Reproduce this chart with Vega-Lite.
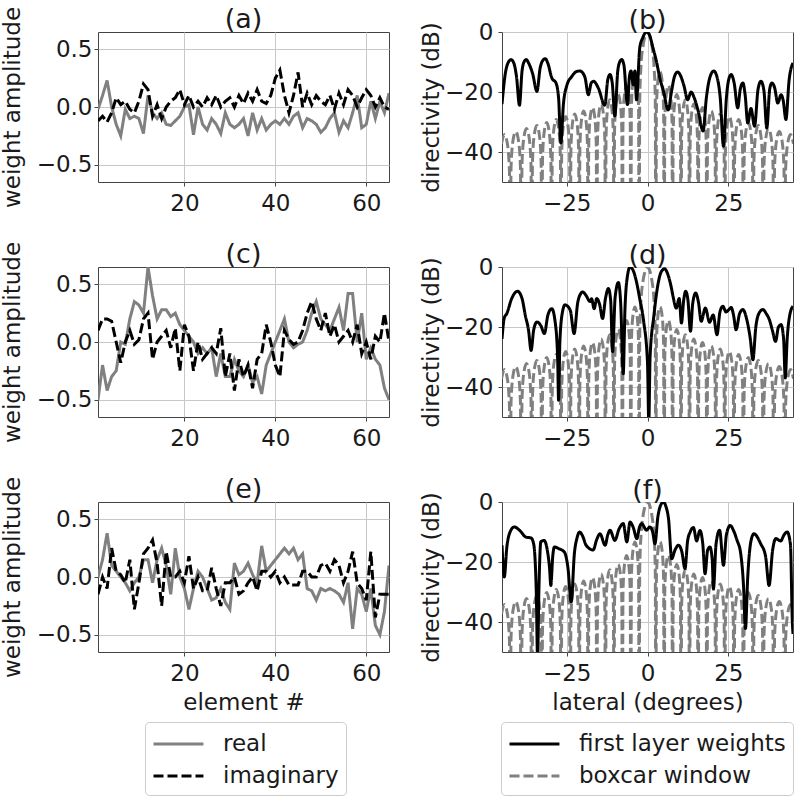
{
"$schema": "https://vega.github.io/schema/vega-lite/v6.json",
"background": "white",
"padding": {"left": 0, "top": 5, "right": 0, "bottom": 0},
"config": {
  "font": "DejaVu Sans",
  "view": {"stroke": "#444444", "strokeWidth": 1},
  "axis": {"labelFont": "DejaVu Sans", "labelFontSize": 23, "labelColor": "#1a1a1a", "titleFont": "DejaVu Sans", "titleFontSize": 23, "titleFontWeight": "normal", "titleColor": "#1a1a1a", "gridColor": "#c8c8c8", "gridWidth": 1, "gridOpacity": 1, "domain": false, "tickColor": "#444444", "tickSize": 4, "labelFlush": false, "labelOverlap": false},
  "axisX": {"labelPadding": 6, "titlePadding": 6},
  "axisY": {"labelPadding": 2, "titlePadding": 12},
  "title": {"font": "DejaVu Sans", "fontSize": 27, "fontWeight": "normal", "color": "#1a1a1a", "offset": 3, "frame": "group"},
  "legend": {"title": null, "symbolType": "M-1,0H2.7", "symbolSize": 729, "symbolStrokeWidth": 3, "labelFontSize": 23, "labelFont": "DejaVu Sans", "labelColor": "#1a1a1a", "labelOffset": 41, "labelLimit": 0, "padding": 7, "rowPadding": 5, "strokeColor": "#cccccc", "cornerRadius": 4, "fillColor": "white"},
  "line": {"strokeWidth": 3}
},
"datasets": {
"wa": [
{"e":1,"r":-0.02,"i":-0.12},{"e":2,"r":0.1,"i":-0.08},{"e":3,"r":0.23,"i":-0.13},{"e":4,"r":0.0,"i":-0.05},{"e":5,"r":-0.15,"i":0.08},{"e":6,"r":-0.25,"i":0.02},{"e":7,"r":-0.02,"i":0.05},{"e":8,"r":-0.1,"i":-0.02},{"e":9,"r":-0.08,"i":-0.05},{"e":10,"r":-0.1,"i":0.05},
{"e":11,"r":-0.23,"i":0.2},{"e":12,"r":0.1,"i":0.15},{"e":13,"r":-0.05,"i":-0.08},{"e":14,"r":-0.1,"i":0.02},{"e":15,"r":-0.05,"i":-0.1},{"e":16,"r":-0.15,"i":0.0},{"e":17,"r":-0.16,"i":0.05},{"e":18,"r":-0.12,"i":0.08},{"e":19,"r":-0.08,"i":0.15},{"e":20,"r":0.0,"i":0.02},
{"e":21,"r":0.02,"i":0.1},{"e":22,"r":-0.24,"i":0.0},{"e":23,"r":0.0,"i":0.05},{"e":24,"r":-0.15,"i":0.0},{"e":25,"r":-0.2,"i":0.08},{"e":26,"r":-0.1,"i":0.02},{"e":27,"r":-0.15,"i":0.1},{"e":28,"r":-0.23,"i":0.0},{"e":29,"r":-0.05,"i":0.05},{"e":30,"r":-0.15,"i":0.08},
{"e":31,"r":-0.18,"i":0.0},{"e":32,"r":-0.15,"i":0.1},{"e":33,"r":-0.1,"i":0.03},{"e":34,"r":-0.25,"i":0.12},{"e":35,"r":-0.05,"i":0.05},{"e":36,"r":-0.2,"i":0.15},{"e":37,"r":-0.1,"i":0.05},{"e":38,"r":-0.2,"i":0.03},{"e":39,"r":-0.15,"i":0.1},{"e":40,"r":-0.12,"i":0.25},
{"e":41,"r":-0.15,"i":0.32},{"e":42,"r":-0.1,"i":0.1},{"e":43,"r":-0.15,"i":-0.05},{"e":44,"r":-0.08,"i":0.1},{"e":45,"r":-0.05,"i":0.3},{"e":46,"r":-0.18,"i":0.0},{"e":47,"r":-0.1,"i":0.12},{"e":48,"r":-0.12,"i":0.02},{"e":49,"r":-0.15,"i":0.1},{"e":50,"r":-0.22,"i":0.05},
{"e":51,"r":-0.18,"i":0.02},{"e":52,"r":-0.1,"i":0.1},{"e":53,"r":-0.05,"i":-0.02},{"e":54,"r":-0.22,"i":0.12},{"e":55,"r":-0.12,"i":0.02},{"e":56,"r":-0.18,"i":0.15},{"e":57,"r":-0.05,"i":0.1},{"e":58,"r":0.1,"i":0.0},{"e":59,"r":-0.18,"i":0.08},{"e":60,"r":-0.15,"i":0.15},
{"e":61,"r":0.05,"i":0.1},{"e":62,"r":-0.1,"i":0.0},{"e":63,"r":0.05,"i":0.08},{"e":64,"r":-0.05,"i":0.0},{"e":65,"r":0.12,"i":-0.02}
],
"wc": [
{"e":1,"r":-0.5,"i":0.1},{"e":2,"r":-0.2,"i":0.2},{"e":3,"r":-0.42,"i":0.2},{"e":4,"r":-0.3,"i":0.18},{"e":5,"r":-0.25,"i":0.0},{"e":6,"r":0.0,"i":-0.18},{"e":7,"r":-0.02,"i":0.0},{"e":8,"r":0.2,"i":0.1},{"e":9,"r":0.35,"i":-0.02},{"e":10,"r":0.32,"i":0.02},
{"e":11,"r":0.25,"i":0.2},{"e":12,"r":0.65,"i":0.25},{"e":13,"r":0.4,"i":-0.15},{"e":14,"r":0.2,"i":0.0},{"e":15,"r":0.28,"i":0.05},{"e":16,"r":0.28,"i":0.1},{"e":17,"r":0.22,"i":-0.05},{"e":18,"r":0.25,"i":0.12},{"e":19,"r":0.15,"i":-0.25},{"e":20,"r":0.1,"i":0.15},
{"e":21,"r":0.05,"i":0.05},{"e":22,"r":0.0,"i":-0.25},{"e":23,"r":-0.1,"i":0.0},{"e":24,"r":-0.05,"i":-0.15},{"e":25,"r":-0.1,"i":-0.1},{"e":26,"r":-0.05,"i":-0.05},{"e":27,"r":-0.3,"i":-0.1},{"e":28,"r":-0.1,"i":0.12},{"e":29,"r":-0.3,"i":-0.3},{"e":30,"r":-0.3,"i":-0.1},
{"e":31,"r":-0.15,"i":-0.42},{"e":32,"r":-0.25,"i":-0.15},{"e":33,"r":-0.3,"i":-0.3},{"e":34,"r":-0.2,"i":-0.2},{"e":35,"r":-0.35,"i":-0.4},{"e":36,"r":-0.3,"i":-0.15},{"e":37,"r":-0.45,"i":-0.1},{"e":38,"r":-0.2,"i":0.15},{"e":39,"r":-0.1,"i":0.0},{"e":40,"r":0.0,"i":-0.2},
{"e":41,"r":0.1,"i":-0.3},{"e":42,"r":0.2,"i":0.1},{"e":43,"r":0.0,"i":0.02},{"e":44,"r":-0.05,"i":-0.02},{"e":45,"r":-0.02,"i":0.0},{"e":46,"r":0.0,"i":0.1},{"e":47,"r":0.1,"i":0.25},{"e":48,"r":0.25,"i":0.35},{"e":49,"r":0.35,"i":0.2},{"e":50,"r":0.2,"i":0.1},
{"e":51,"r":0.15,"i":0.25},{"e":52,"r":0.1,"i":0.05},{"e":53,"r":0.2,"i":0.15},{"e":54,"r":0.3,"i":0.0},{"e":55,"r":0.1,"i":0.05},{"e":56,"r":0.42,"i":0.1},{"e":57,"r":0.42,"i":0.0},{"e":58,"r":0.0,"i":0.15},{"e":59,"r":0.25,"i":-0.1},{"e":60,"r":-0.15,"i":0.0},
{"e":61,"r":-0.05,"i":-0.15},{"e":62,"r":-0.15,"i":0.05},{"e":63,"r":-0.2,"i":0.0},{"e":64,"r":-0.4,"i":0.25},{"e":65,"r":-0.5,"i":0.0}
],
"we": [
{"e":1,"r":0.0,"i":-0.15},{"e":2,"r":0.15,"i":0.0},{"e":3,"r":0.38,"i":-0.1},{"e":4,"r":0.1,"i":0.25},{"e":5,"r":0.05,"i":0.05},{"e":6,"r":0.0,"i":0.02},{"e":7,"r":-0.05,"i":-0.05},{"e":8,"r":-0.12,"i":0.15},{"e":9,"r":-0.05,"i":-0.28},{"e":10,"r":0.0,"i":-0.05},
{"e":11,"r":0.15,"i":0.2},{"e":12,"r":0.15,"i":0.25},{"e":13,"r":-0.05,"i":0.32},{"e":14,"r":0.15,"i":0.12},{"e":15,"r":0.25,"i":-0.25},{"e":16,"r":0.1,"i":0.22},{"e":17,"r":-0.15,"i":0.0},{"e":18,"r":0.25,"i":0.0},{"e":19,"r":0.0,"i":0.05},{"e":20,"r":-0.1,"i":-0.05},
{"e":21,"r":-0.28,"i":0.18},{"e":22,"r":-0.1,"i":-0.1},{"e":23,"r":0.05,"i":0.0},{"e":24,"r":0.0,"i":-0.12},{"e":25,"r":-0.1,"i":-0.12},{"e":26,"r":-0.2,"i":0.08},{"e":27,"r":-0.18,"i":-0.1},{"e":28,"r":-0.1,"i":-0.25},{"e":29,"r":-0.22,"i":-0.05},{"e":30,"r":-0.28,"i":-0.05},
{"e":31,"r":0.12,"i":0.0},{"e":32,"r":0.02,"i":-0.15},{"e":33,"r":0.05,"i":-0.12},{"e":34,"r":0.12,"i":-0.05},{"e":35,"r":0.02,"i":0.0},{"e":36,"r":-0.05,"i":-0.12},{"e":37,"r":0.27,"i":0.05},{"e":38,"r":0.05,"i":0.05},{"e":39,"r":0.1,"i":0.0},{"e":40,"r":0.15,"i":0.05},
{"e":41,"r":0.2,"i":-0.05},{"e":42,"r":0.25,"i":0.0},{"e":43,"r":0.2,"i":-0.07},{"e":44,"r":0.25,"i":-0.07},{"e":45,"r":0.15,"i":-0.07},{"e":46,"r":0.2,"i":0.05},{"e":47,"r":-0.1,"i":0.05},{"e":48,"r":-0.12,"i":0.0},{"e":49,"r":-0.2,"i":0.0},{"e":50,"r":-0.1,"i":0.1},
{"e":51,"r":-0.12,"i":0.12},{"e":52,"r":-0.1,"i":0.05},{"e":53,"r":-0.12,"i":0.15},{"e":54,"r":-0.15,"i":0.1},{"e":55,"r":-0.22,"i":-0.05},{"e":56,"r":-0.05,"i":0.05},{"e":57,"r":-0.45,"i":0.22},{"e":58,"r":-0.1,"i":-0.05},{"e":59,"r":-0.15,"i":-0.1},{"e":60,"r":-0.3,"i":-0.2},
{"e":61,"r":-0.1,"i":0.22},{"e":62,"r":-0.42,"i":-0.35},{"e":63,"r":-0.5,"i":-0.15},{"e":64,"r":-0.3,"i":-0.15},{"e":65,"r":0.1,"i":-0.15}
],
"box": [
{"a":-45.15,"d":-37.2},{"a":-44.25,"d":-34.2},{"a":-43.35,"d":-37.2},{"a":-42.7,"d":-46.2},{"a":-42.45,"d":-90},
{"a":-42.21,"d":-45.2},{"a":-41.6,"d":-36.2},{"a":-40.75,"d":-33.2},{"a":-39.9,"d":-36.2},{"a":-39.29,"d":-45.2},{"a":-39.05,"d":-90},
{"a":-38.82,"d":-44.2},{"a":-38.24,"d":-35.2},{"a":-37.43,"d":-32.2},{"a":-36.61,"d":-35.2},{"a":-36.03,"d":-44.2},{"a":-35.8,"d":-90},
{"a":-35.58,"d":-43.2},{"a":-35.02,"d":-34.2},{"a":-34.24,"d":-31.2},{"a":-33.46,"d":-34.2},{"a":-32.9,"d":-43.2},{"a":-32.68,"d":-90},
{"a":-32.47,"d":-42.2},{"a":-31.93,"d":-33.2},{"a":-31.18,"d":-30.2},{"a":-30.42,"d":-33.2},{"a":-29.88,"d":-42.2},{"a":-29.67,"d":-90},
{"a":-29.46,"d":-41.2},{"a":-28.94,"d":-32.2},{"a":-28.21,"d":-29.2},{"a":-27.47,"d":-32.2},{"a":-26.95,"d":-41.2},{"a":-26.74,"d":-90},
{"a":-26.54,"d":-40.2},{"a":-26.03,"d":-31.2},{"a":-25.32,"d":-28.2},{"a":-24.6,"d":-31.2},{"a":-24.09,"d":-40.2},{"a":-23.89,"d":-90},
{"a":-23.69,"d":-39.3},{"a":-23.19,"d":-30.3},{"a":-22.5,"d":-27.3},{"a":-21.8,"d":-30.3},{"a":-21.3,"d":-39.3},{"a":-21.1,"d":-90},
{"a":-20.91,"d":-38.3},{"a":-20.42,"d":-29.3},{"a":-19.73,"d":-26.3},{"a":-19.05,"d":-29.3},{"a":-18.55,"d":-38.3},{"a":-18.36,"d":-90},
{"a":-18.17,"d":-37.2},{"a":-17.69,"d":-28.2},{"a":-17.01,"d":-25.2},{"a":-16.34,"d":-28.2},{"a":-15.85,"d":-37.2},{"a":-15.66,"d":-90},
{"a":-15.47,"d":-36},{"a":-15.0,"d":-27},{"a":-14.33,"d":-24},{"a":-13.67,"d":-27},{"a":-13.19,"d":-36},{"a":-13.0,"d":-90},
{"a":-12.82,"d":-34.6},{"a":-12.34,"d":-25.6},{"a":-11.69,"d":-22.6},{"a":-11.03,"d":-25.6},{"a":-10.55,"d":-34.6},{"a":-10.37,"d":-90},
{"a":-10.19,"d":-32.8},{"a":-9.72,"d":-23.8},{"a":-9.07,"d":-20.8},{"a":-8.41,"d":-23.8},{"a":-7.94,"d":-32.8},{"a":-7.76,"d":-90},
{"a":-7.58,"d":-29.8},{"a":-7.11,"d":-20.8},{"a":-6.46,"d":-17.8},{"a":-5.81,"d":-20.8},{"a":-5.34,"d":-29.8},{"a":-5.16,"d":-90},
{"a":-4.98,"d":-25.3},{"a":-4.52,"d":-16.3},{"a":-3.87,"d":-13.3},{"a":-3.23,"d":-16.3},{"a":-2.76,"d":-25.3},{"a":-2.58,"d":-90},
{"a":-2.4,"d":-22},{"a":-2.0,"d":-11},{"a":-1.4,"d":-4.8},{"a":-0.7,"d":-1.2},{"a":0,"d":0},
{"a":0.7,"d":-1.2},{"a":1.4,"d":-4.8},{"a":2.0,"d":-11},{"a":2.4,"d":-22},{"a":2.58,"d":-90},
{"a":2.76,"d":-25.3},{"a":3.23,"d":-16.3},{"a":3.87,"d":-13.3},{"a":4.52,"d":-16.3},{"a":4.98,"d":-25.3},{"a":5.16,"d":-90},
{"a":5.34,"d":-29.8},{"a":5.81,"d":-20.8},{"a":6.46,"d":-17.8},{"a":7.11,"d":-20.8},{"a":7.58,"d":-29.8},{"a":7.76,"d":-90},
{"a":7.94,"d":-32.8},{"a":8.41,"d":-23.8},{"a":9.07,"d":-20.8},{"a":9.72,"d":-23.8},{"a":10.19,"d":-32.8},{"a":10.37,"d":-90},
{"a":10.55,"d":-34.6},{"a":11.03,"d":-25.6},{"a":11.69,"d":-22.6},{"a":12.34,"d":-25.6},{"a":12.82,"d":-34.6},{"a":13.0,"d":-90},
{"a":13.19,"d":-36},{"a":13.67,"d":-27},{"a":14.33,"d":-24},{"a":15.0,"d":-27},{"a":15.47,"d":-36},{"a":15.66,"d":-90},
{"a":15.85,"d":-37.2},{"a":16.34,"d":-28.2},{"a":17.01,"d":-25.2},{"a":17.69,"d":-28.2},{"a":18.17,"d":-37.2},{"a":18.36,"d":-90},
{"a":18.55,"d":-38.3},{"a":19.05,"d":-29.3},{"a":19.73,"d":-26.3},{"a":20.42,"d":-29.3},{"a":20.91,"d":-38.3},{"a":21.1,"d":-90},
{"a":21.3,"d":-39.3},{"a":21.8,"d":-30.3},{"a":22.5,"d":-27.3},{"a":23.19,"d":-30.3},{"a":23.69,"d":-39.3},{"a":23.89,"d":-90},
{"a":24.09,"d":-40.2},{"a":24.6,"d":-31.2},{"a":25.32,"d":-28.2},{"a":26.03,"d":-31.2},{"a":26.54,"d":-40.2},{"a":26.74,"d":-90},
{"a":26.95,"d":-41.2},{"a":27.47,"d":-32.2},{"a":28.21,"d":-29.2},{"a":28.94,"d":-32.2},{"a":29.46,"d":-41.2},{"a":29.67,"d":-90},
{"a":29.88,"d":-42.2},{"a":30.42,"d":-33.2},{"a":31.18,"d":-30.2},{"a":31.93,"d":-33.2},{"a":32.47,"d":-42.2},{"a":32.68,"d":-90},
{"a":32.9,"d":-43.2},{"a":33.46,"d":-34.2},{"a":34.24,"d":-31.2},{"a":35.02,"d":-34.2},{"a":35.58,"d":-43.2},{"a":35.8,"d":-90},
{"a":36.03,"d":-44.2},{"a":36.61,"d":-35.2},{"a":37.43,"d":-32.2},{"a":38.24,"d":-35.2},{"a":38.82,"d":-44.2},{"a":39.05,"d":-90},
{"a":39.29,"d":-45.2},{"a":39.9,"d":-36.2},{"a":40.75,"d":-33.2},{"a":41.6,"d":-36.2},{"a":42.21,"d":-45.2},{"a":42.45,"d":-90},
{"a":42.7,"d":-46.2},{"a":43.35,"d":-37.2},{"a":44.25,"d":-34.2},{"a":45.15,"d":-37.2}
],
"db": [
{"a":-45,"d":-24},{"a":-44,"d":-14},{"a":-43,"d":-10},{"a":-42.2,"d":-9.2},{"a":-41.3,"d":-10.5},{"a":-40.5,"d":-15},{"a":-39.6,"d":-24.4},{"a":-38.8,"d":-13},{"a":-38.2,"d":-10},{"a":-37.5,"d":-9.2},
{"a":-36.7,"d":-10.5},{"a":-35.5,"d":-14},{"a":-34.2,"d":-19.8},{"a":-33.2,"d":-12},{"a":-32.4,"d":-9.5},{"a":-31.6,"d":-8.9},{"a":-30.8,"d":-10.5},{"a":-29.6,"d":-15.3},{"a":-28.3,"d":-17},{"a":-27.5,"d":-22},
{"a":-26.8,"d":-37},{"a":-26,"d":-24},{"a":-25,"d":-18},{"a":-23.4,"d":-14.8},{"a":-22,"d":-13.2},{"a":-20.9,"d":-13},{"a":-19.8,"d":-14},{"a":-19.3,"d":-15.3},{"a":-18.3,"d":-20.9},{"a":-17.4,"d":-17},
{"a":-16.7,"d":-16.4},{"a":-15.2,"d":-18.7},{"a":-13.2,"d":-24.4},{"a":-12.3,"d":-16},{"a":-11.6,"d":-14.2},{"a":-10.9,"d":-17},{"a":-10.1,"d":-28},{"a":-9.2,"d":-13},{"a":-8.6,"d":-10},{"a":-8.0,"d":-9.2},
{"a":-7.3,"d":-11},{"a":-6.2,"d":-24.2},{"a":-5.6,"d":-15},{"a":-5.1,"d":-13},{"a":-4.4,"d":-17.6},{"a":-3.9,"d":-13},{"a":-3.4,"d":-22.6},{"a":-2.4,"d":-5.3},{"a":-1.5,"d":-2},{"a":-0.3,"d":0},
{"a":0.6,"d":-1},{"a":1.7,"d":-5.3},{"a":2.8,"d":-10},{"a":3.8,"d":-15.3},{"a":5,"d":-20},{"a":6.4,"d":-26},{"a":7.4,"d":-20},{"a":8.3,"d":-15},{"a":9.3,"d":-13.3},{"a":10.2,"d":-14.5},
{"a":11.3,"d":-18},{"a":12.4,"d":-22.6},{"a":13.5,"d":-20},{"a":14.4,"d":-21.8},{"a":15.6,"d":-26},{"a":17.2,"d":-33},{"a":18.2,"d":-22},{"a":19.2,"d":-15.5},{"a":20.5,"d":-13},{"a":21.5,"d":-15},
{"a":22.5,"d":-22},{"a":23.5,"d":-38.1},{"a":24.4,"d":-22},{"a":25.2,"d":-15.5},{"a":25.9,"d":-14.2},{"a":26.8,"d":-17},{"a":27.9,"d":-25.3},{"a":28.7,"d":-19},{"a":29.5,"d":-17},{"a":30.2,"d":-21},
{"a":31,"d":-30.3},{"a":32,"d":-25.5},{"a":33.1,"d":-31.4},{"a":34.2,"d":-19},{"a":35.1,"d":-16.4},{"a":36,"d":-19.5},{"a":36.9,"d":-32},{"a":37.8,"d":-19},{"a":38.5,"d":-17},{"a":39.3,"d":-18.5},
{"a":40.3,"d":-23.7},{"a":41.3,"d":-20.9},{"a":42,"d":-23},{"a":42.8,"d":-29.2},{"a":43.8,"d":-16},{"a":45,"d":-10.3}
],
"dd": [
{"a":-45,"d":-24},{"a":-44.3,"d":-17},{"a":-43.5,"d":-15.5},{"a":-42,"d":-10.5},{"a":-40.2,"d":-8.1},{"a":-38.8,"d":-10.5},{"a":-37.8,"d":-16.1},{"a":-36.8,"d":-21},{"a":-36,"d":-27.8},{"a":-35.2,"d":-21},
{"a":-34.2,"d":-18.3},{"a":-33,"d":-19.5},{"a":-31.9,"d":-22.2},{"a":-30.8,"d":-16},{"a":-29.6,"d":-13.9},{"a":-28.6,"d":-18},{"a":-27.8,"d":-30},{"a":-27.5,"d":-44.4},{"a":-27.1,"d":-25},{"a":-26.3,"d":-15},
{"a":-25.5,"d":-12.6},{"a":-23.9,"d":-14.4},{"a":-22.7,"d":-22.2},{"a":-21.6,"d":-12},{"a":-20.6,"d":-8.8},{"a":-20,"d":-8.3},{"a":-19,"d":-9.5},{"a":-17.8,"d":-11.5},{"a":-17.3,"d":-10.6},{"a":-16.5,"d":-13.9},
{"a":-15.7,"d":-10.5},{"a":-14.8,"d":-12.5},{"a":-13.9,"d":-17.2},{"a":-13,"d":-10.5},{"a":-12.1,"d":-7.2},{"a":-11.4,"d":-11},{"a":-10.8,"d":-28.3},{"a":-10,"d":-10},{"a":-9,"d":-5.2},{"a":-8.3,"d":-12},
{"a":-7.5,"d":-35.6},{"a":-7,"d":-15},{"a":-6.2,"d":-3},{"a":-5.4,"d":0},{"a":-4.5,"d":-1},{"a":-3.4,"d":-5},{"a":-2.4,"d":-10.6},{"a":-1.2,"d":-18},{"a":0,"d":-32},{"a":0.4,"d":-52},
{"a":0.8,"d":-30},{"a":2,"d":-16},{"a":3.2,"d":-6},{"a":4.3,"d":-1.5},{"a":5.3,"d":-0.6},{"a":6.3,"d":-2.5},{"a":7.3,"d":-6.5},{"a":7.9,"d":-9.8},{"a":8.9,"d":-13.7},{"a":9.8,"d":-10.5},
{"a":10.5,"d":-18.7},{"a":11.2,"d":-11},{"a":11.8,"d":-8.1},{"a":12.5,"d":-11},{"a":13.3,"d":-21.4},{"a":14,"d":-12},{"a":14.9,"d":-8.7},{"a":15.8,"d":-12},{"a":16.6,"d":-18.1},{"a":17.9,"d":-13.7},
{"a":19.2,"d":-18.4},{"a":20.3,"d":-16},{"a":21.5,"d":-22.6},{"a":22.4,"d":-15},{"a":23.3,"d":-13.1},{"a":24.3,"d":-15},{"a":24.9,"d":-14.5},{"a":25.9,"d":-13.5},{"a":26.6,"d":-16},{"a":27.4,"d":-20.9},
{"a":28.5,"d":-15.5},{"a":29.5,"d":-14.2},{"a":30.7,"d":-17.5},{"a":31.8,"d":-24},{"a":32.6,"d":-30.9},{"a":33.5,"d":-20},{"a":34.6,"d":-15.2},{"a":35.7,"d":-14.2},{"a":36.7,"d":-15.5},{"a":37.7,"d":-17.6},
{"a":38.6,"d":-21},{"a":39.6,"d":-24.8},{"a":40.5,"d":-20},{"a":41.3,"d":-19.2},{"a":42.1,"d":-24},{"a":42.6,"d":-37},{"a":43.2,"d":-24},{"a":44.1,"d":-15.5},{"a":45,"d":-13.1}
],
"df": [
{"a":-45,"d":-14.4},{"a":-44.3,"d":-25},{"a":-43.5,"d":-15},{"a":-42.5,"d":-10},{"a":-41.2,"d":-8.3},{"a":-39.5,"d":-9.5},{"a":-37.6,"d":-11.7},{"a":-36,"d":-12},{"a":-35.2,"d":-14},{"a":-34.4,"d":-30},
{"a":-34,"d":-52},{"a":-33.6,"d":-30},{"a":-33,"d":-13.3},{"a":-32,"d":-12.8},{"a":-31,"d":-16},{"a":-30.3,"d":-22},{"a":-29.9,"d":-27.8},{"a":-29.3,"d":-18},{"a":-28.8,"d":-15},{"a":-27.5,"d":-15.5},
{"a":-25.7,"d":-16.7},{"a":-24.6,"d":-22},{"a":-23.6,"d":-33.3},{"a":-22.6,"d":-17},{"a":-21.8,"d":-12},{"a":-21,"d":-10},{"a":-20,"d":-11.5},{"a":-19,"d":-14.4},{"a":-16.8,"d":-16},{"a":-15.7,"d":-12.5},
{"a":-14.7,"d":-10.6},{"a":-13.1,"d":-14.4},{"a":-12.3,"d":-11},{"a":-11.6,"d":-9.4},{"a":-10.1,"d":-12.8},{"a":-8.8,"d":-9},{"a":-7.5,"d":-7.2},{"a":-6.4,"d":-13.3},{"a":-5.4,"d":-6.7},{"a":-4.4,"d":-8.5},
{"a":-3.3,"d":-12.2},{"a":-2.5,"d":-8.5},{"a":-1.8,"d":-7.2},{"a":-0.3,"d":-9.4},{"a":0.7,"d":-8.3},{"a":1.6,"d":-10},{"a":2.3,"d":-13.9},{"a":3.2,"d":-5},{"a":4.1,"d":-1},{"a":4.9,"d":0},
{"a":5.7,"d":-1.5},{"a":6.5,"d":-5.6},{"a":7.5,"d":-18.9},{"a":8.5,"d":-16},{"a":9.6,"d":-14.4},{"a":10.6,"d":-16.5},{"a":11.6,"d":-22.2},{"a":12.4,"d":-13},{"a":13.2,"d":-10},{"a":14.2,"d":-8.5},
{"a":15.2,"d":-13},{"a":16.2,"d":-9.5},{"a":17.1,"d":-14},{"a":17.8,"d":-23.9},{"a":18.6,"d":-16},{"a":19.3,"d":-15},{"a":20,"d":-19},{"a":20.4,"d":-28.9},{"a":21.2,"d":-14},{"a":22.3,"d":-9.4},
{"a":23.5,"d":-21.1},{"a":24.4,"d":-11},{"a":25.6,"d":-7.8},{"a":26.6,"d":-9.5},{"a":27.7,"d":-12.8},{"a":28.8,"d":-17},{"a":29.7,"d":-28},{"a":30.3,"d":-42.2},{"a":31,"d":-25},{"a":32,"d":-13},
{"a":32.9,"d":-10.6},{"a":35,"d":-13.9},{"a":36.5,"d":-18},{"a":37.6,"d":-27.8},{"a":38.7,"d":-16},{"a":39.7,"d":-12.2},{"a":41.2,"d":-13},{"a":42.2,"d":-11},{"a":43.2,"d":-10},{"a":44.2,"d":-14},
{"a":44.8,"d":-40},{"a":45,"d":-44}
]
},
"columns": 2,
"bounds": "flush",
"spacing": {"row": 85, "column": 113},
"resolve": {"scale": {"color": "independent", "strokeDash": "independent"}, "legend": {"color": "independent", "strokeDash": "independent"}},
"concat": [
{
 "width": 291, "height": 150, "title": {"text": "(a)", "dy": 31}, "data": {"name": "wa"},
 "layer": [
  {"mark": {"type": "line", "clip": true}, "encoding": {
    "x": {"field": "e", "type": "quantitative", "scale": {"domain": [1, 65], "nice": false, "zero": false}, "axis": {"values": [20, 40, 60], "title": null}},
    "y": {"field": "r", "type": "quantitative", "scale": {"domain": [-0.65, 0.65], "nice": false, "zero": false}, "axis": {"values": [-0.5, 0, 0.5], "format": ".1f", "title": "weight amplitude"}},
    "color": {"datum": "real", "scale": {"domain": ["real", "imaginary"], "range": ["#808080", "#000000"]}, "legend": null},
    "strokeDash": {"datum": "real", "scale": {"domain": ["real", "imaginary"], "range": [[1, 0], [10, 4]]}, "legend": null}}},
  {"mark": {"type": "line", "clip": true}, "encoding": {
    "x": {"field": "e", "type": "quantitative"},
    "y": {"field": "i", "type": "quantitative", "axis": {"values": [-0.5, 0, 0.5], "format": ".1f", "title": "weight amplitude"}},
    "color": {"datum": "imaginary", "legend": null},
    "strokeDash": {"datum": "imaginary", "legend": null}}}
 ]
},
{
 "width": 291, "height": 150, "title": {"text": "(b)", "dy": 17},
 "layer": [
  {"data": {"name": "box"}, "mark": {"type": "line", "clip": true, "interpolate": "monotone"}, "encoding": {
    "x": {"field": "a", "type": "quantitative", "scale": {"domain": [-45, 45], "nice": false, "zero": false}, "axis": {"values": [-25, 0, 25], "title": null}},
    "y": {"field": "d", "type": "quantitative", "scale": {"domain": [-50, 0], "nice": false, "zero": false}, "axis": {"values": [-40, -20, 0], "title": "directivity (dB)", "labelPadding": 5, "titlePadding": 1}},
    "color": {"datum": "boxcar window", "scale": {"domain": ["first layer weights", "boxcar window"], "range": ["#000000", "#808080"]}, "legend": null},
    "strokeDash": {"datum": "boxcar window", "scale": {"domain": ["first layer weights", "boxcar window"], "range": [[1, 0], [10, 4]]}, "legend": null}}},
  {"data": {"name": "db"}, "mark": {"type": "line", "clip": true, "interpolate": "monotone"}, "encoding": {
    "x": {"field": "a", "type": "quantitative"},
    "y": {"field": "d", "type": "quantitative", "axis": {"values": [-40, -20, 0], "title": "directivity (dB)", "labelPadding": 5, "titlePadding": 1}},
    "color": {"datum": "first layer weights", "legend": null},
    "strokeDash": {"datum": "first layer weights", "legend": null}}}
 ]
},
{
 "width": 291, "height": 150, "title": {"text": "(c)", "dy": 31}, "data": {"name": "wc"},
 "layer": [
  {"mark": {"type": "line", "clip": true}, "encoding": {
    "x": {"field": "e", "type": "quantitative", "scale": {"domain": [1, 65], "nice": false, "zero": false}, "axis": {"values": [20, 40, 60], "title": null}},
    "y": {"field": "r", "type": "quantitative", "scale": {"domain": [-0.65, 0.65], "nice": false, "zero": false}, "axis": {"values": [-0.5, 0, 0.5], "format": ".1f", "title": "weight amplitude"}},
    "color": {"datum": "real", "scale": {"domain": ["real", "imaginary"], "range": ["#808080", "#000000"]}, "legend": null},
    "strokeDash": {"datum": "real", "scale": {"domain": ["real", "imaginary"], "range": [[1, 0], [10, 4]]}, "legend": null}}},
  {"mark": {"type": "line", "clip": true}, "encoding": {
    "x": {"field": "e", "type": "quantitative"},
    "y": {"field": "i", "type": "quantitative", "axis": {"values": [-0.5, 0, 0.5], "format": ".1f", "title": "weight amplitude"}},
    "color": {"datum": "imaginary", "legend": null},
    "strokeDash": {"datum": "imaginary", "legend": null}}}
 ]
},
{
 "width": 291, "height": 150, "title": {"text": "(d)", "dy": 17},
 "layer": [
  {"data": {"name": "box"}, "mark": {"type": "line", "clip": true, "interpolate": "monotone"}, "encoding": {
    "x": {"field": "a", "type": "quantitative", "scale": {"domain": [-45, 45], "nice": false, "zero": false}, "axis": {"values": [-25, 0, 25], "title": null}},
    "y": {"field": "d", "type": "quantitative", "scale": {"domain": [-50, 0], "nice": false, "zero": false}, "axis": {"values": [-40, -20, 0], "title": "directivity (dB)", "labelPadding": 5, "titlePadding": 1}},
    "color": {"datum": "boxcar window", "scale": {"domain": ["first layer weights", "boxcar window"], "range": ["#000000", "#808080"]}, "legend": null},
    "strokeDash": {"datum": "boxcar window", "scale": {"domain": ["first layer weights", "boxcar window"], "range": [[1, 0], [10, 4]]}, "legend": null}}},
  {"data": {"name": "dd"}, "mark": {"type": "line", "clip": true, "interpolate": "monotone"}, "encoding": {
    "x": {"field": "a", "type": "quantitative"},
    "y": {"field": "d", "type": "quantitative", "axis": {"values": [-40, -20, 0], "title": "directivity (dB)", "labelPadding": 5, "titlePadding": 1}},
    "color": {"datum": "first layer weights", "legend": null},
    "strokeDash": {"datum": "first layer weights", "legend": null}}}
 ]
},
{
 "width": 291, "height": 150, "title": {"text": "(e)", "dy": 31}, "data": {"name": "we"},
 "layer": [
  {"mark": {"type": "line", "clip": true}, "encoding": {
    "x": {"field": "e", "type": "quantitative", "scale": {"domain": [1, 65], "nice": false, "zero": false}, "axis": {"values": [20, 40, 60], "title": "element #"}},
    "y": {"field": "r", "type": "quantitative", "scale": {"domain": [-0.65, 0.65], "nice": false, "zero": false}, "axis": {"values": [-0.5, 0, 0.5], "format": ".1f", "title": "weight amplitude"}},
    "color": {"datum": "real", "scale": {"domain": ["real", "imaginary"], "range": ["#808080", "#000000"]}, "legend": {"orient": "none", "legendX": 47, "legendY": 220}},
    "strokeDash": {"datum": "real", "scale": {"domain": ["real", "imaginary"], "range": [[1, 0], [10, 4]]}, "legend": {"orient": "none", "legendX": 47, "legendY": 220}}}},
  {"mark": {"type": "line", "clip": true}, "encoding": {
    "x": {"field": "e", "type": "quantitative", "axis": {"values": [20, 40, 60], "title": "element #"}},
    "y": {"field": "i", "type": "quantitative", "axis": {"values": [-0.5, 0, 0.5], "format": ".1f", "title": "weight amplitude"}},
    "color": {"datum": "imaginary"},
    "strokeDash": {"datum": "imaginary"}}}
 ]
},
{
 "width": 291, "height": 150, "title": {"text": "(f)", "dy": 17},
 "layer": [
  {"data": {"name": "box"}, "mark": {"type": "line", "clip": true, "interpolate": "monotone"}, "encoding": {
    "x": {"field": "a", "type": "quantitative", "scale": {"domain": [-45, 45], "nice": false, "zero": false}, "axis": {"values": [-25, 0, 25], "title": "lateral (degrees)"}},
    "y": {"field": "d", "type": "quantitative", "scale": {"domain": [-50, 0], "nice": false, "zero": false}, "axis": {"values": [-40, -20, 0], "title": "directivity (dB)", "labelPadding": 5, "titlePadding": 1}},
    "color": {"datum": "boxcar window", "scale": {"domain": ["first layer weights", "boxcar window"], "range": ["#000000", "#808080"]}, "legend": {"orient": "none", "legendX": -1, "legendY": 220}},
    "strokeDash": {"datum": "boxcar window", "scale": {"domain": ["first layer weights", "boxcar window"], "range": [[1, 0], [10, 4]]}, "legend": {"orient": "none", "legendX": -1, "legendY": 220}}}},
  {"data": {"name": "df"}, "mark": {"type": "line", "clip": true, "interpolate": "monotone"}, "encoding": {
    "x": {"field": "a", "type": "quantitative", "axis": {"values": [-25, 0, 25], "title": "lateral (degrees)"}},
    "y": {"field": "d", "type": "quantitative", "axis": {"values": [-40, -20, 0], "title": "directivity (dB)", "labelPadding": 5, "titlePadding": 1}},
    "color": {"datum": "first layer weights"},
    "strokeDash": {"datum": "first layer weights"}}}
 ]
}
]
}
